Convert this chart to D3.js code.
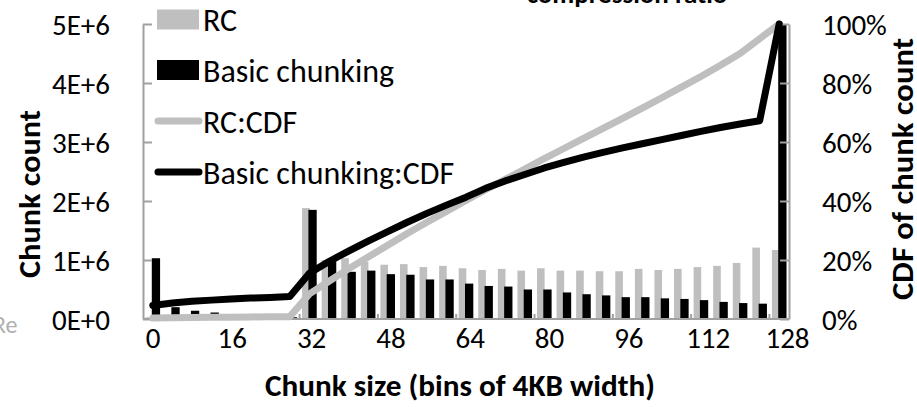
<!DOCTYPE html>
<html><head><meta charset="utf-8">
<script src="https://cdn.jsdelivr.net/npm/d3@7/dist/d3.min.js"></script>
<style>
body{margin:0;background:#fff;}
svg text{font-family:Carlito, Lato, sans-serif;fill:#000;}
</style>
</head><body>
<svg id="chart" width="917" height="407"></svg>
<script>
// ---- data ----
const categories = [0,4,8,12,16,20,24,28,32,36,40,44,48,52,56,60,64,68,72,76,80,84,88,92,96,100,104,108,112,116,120,124,128];
const xTickValues = [0,16,32,48,64,80,96,112,128];
const xTickLabels = ["0","16","32","48","64","80","96","112","128"];
const leftTickValues = [0,1e6,2e6,3e6,4e6,5e6];
const leftTickLabels = ["0E+0","1E+6","2E+6","3E+6","4E+6","5E+6"];
const rightTickValues = [0,0.2,0.4,0.6,0.8,1.0];
const rightTickLabels = ["0%","20%","40%","60%","80%","100%"];
const seriesNames = ["RC","Basic chunking","RC:CDF","Basic chunking:CDF"];

const rcCount = [0.03e6,0.03e6,0.03e6,0.03e6,0.02e6,0.02e6,0.02e6,0.02e6,1.88e6,1.0e6,1.03e6,0.97e6,0.92e6,0.93e6,0.88e6,0.90e6,0.86e6,0.83e6,0.85e6,0.82e6,0.86e6,0.82e6,0.82e6,0.81e6,0.81e6,0.85e6,0.83e6,0.85e6,0.88e6,0.90e6,0.95e6,1.21e6,1.17e6];
const basicCount = [1.03e6,0.20e6,0.14e6,0.11e6,0.08e6,0.05e6,0.04e6,0.03e6,1.85e6,1.0e6,0.80e6,0.82e6,0.76e6,0.75e6,0.67e6,0.67e6,0.60e6,0.56e6,0.55e6,0.50e6,0.50e6,0.45e6,0.42e6,0.40e6,0.37e6,0.37e6,0.35e6,0.34e6,0.32e6,0.29e6,0.27e6,0.26e6,7.6e6];
const rcCdf = [0.003,0.004,0.005,0.006,0.006,0.007,0.008,0.008,0.085,0.128,0.17,0.21,0.25,0.29,0.328,0.365,0.402,0.438,0.473,0.508,0.544,0.578,0.612,0.646,0.68,0.715,0.75,0.786,0.822,0.86,0.90,0.95,1.0];
const basicCdf = [0.046,0.054,0.060,0.064,0.068,0.071,0.073,0.076,0.155,0.195,0.23,0.264,0.296,0.328,0.358,0.386,0.413,0.443,0.468,0.49,0.512,0.531,0.549,0.565,0.58,0.594,0.608,0.622,0.636,0.649,0.661,0.672,1.0];

// ---- layout ----
const L = 143, R = 789, T = 24, B = 319;
const GRAY = "#bfbfbf", AXIS = "#a0a0a0";
const FONT = "Carlito, Lato, sans-serif";
const svg = d3.select("#chart");

const x = d3.scaleBand().domain(categories).range([L, R]).padding(0);
const bw = x.bandwidth();
const cx = c => x(c) + bw / 2;
const xLab = d3.scaleLinear().domain([0, 128]).range([152.5, 787]);
const yL = d3.scaleLinear().domain([0, 5e6]).range([B, T]);
const yR = d3.scaleLinear().domain([0, 1]).range([B, T]);

svg.append("defs").append("clipPath").attr("id", "plot")
  .append("rect").attr("x", L).attr("y", T).attr("width", R - L).attr("height", B - T);

// partial texts from the surrounding page
svg.append("text").attr("x", 627).attr("y", 3).attr("text-anchor", "middle")
  .style("font-size", "27px").style("font-weight", "bold").text("compression ratio");
svg.append("text").attr("x", -7).attr("y", 333).style("font-size", "24px")
  .style("fill", "#b0b0b0").text("Re");

// bars
const bars = svg.append("g").attr("clip-path", "url(#plot)");
bars.selectAll(".rc").data(categories).join("rect")
  .attr("x", d => cx(d) - 7.3).attr("width", 7.6)
  .attr("y", (d, i) => yL(rcCount[i])).attr("height", (d, i) => B - yL(rcCount[i]))
  .attr("fill", GRAY);
bars.selectAll(".bc").data(categories).join("rect")
  .attr("x", d => cx(d) - 1).attr("width", 8.3)
  .attr("y", (d, i) => yL(basicCount[i])).attr("height", (d, i) => B - yL(basicCount[i]))
  .attr("fill", "#000");

// axes
function styleAxis(g) {
  g.select(".domain").attr("stroke", AXIS).attr("stroke-width", 2);
  g.selectAll(".tick line").attr("stroke", AXIS).attr("stroke-width", 2);
  g.selectAll(".tick text").style("font-size", "29px").style("font-family", FONT);
}
const axL = d3.axisLeft(yL).tickValues(leftTickValues)
  .tickFormat((d, i) => leftTickLabels[i]).tickSizeInner(-9).tickSizeOuter(0).tickPadding(33);
svg.append("g").attr("transform", `translate(${L},0)`).call(axL).call(styleAxis)
  .selectAll(".tick text").attr("dy", "0.36em");
const axR = d3.axisRight(yR).tickValues(rightTickValues)
  .tickFormat((d, i) => rightTickLabels[i]).tickSizeInner(-9).tickSizeOuter(0).tickPadding(33);
svg.append("g").attr("transform", `translate(${R},0)`).call(axR).call(styleAxis)
  .selectAll(".tick text").attr("dy", "0.36em");

// bottom axis line
svg.append("line").attr("x1", L).attr("x2", R).attr("y1", B).attr("y2", B)
  .attr("stroke", AXIS).attr("stroke-width", 2);
// category boundary tick marks (every 4 categories)
svg.append("g").selectAll("line").data(categories.filter((d, i) => i > 0 && i % 4 === 0)).join("line")
  .attr("x1", d => x(d)).attr("x2", d => x(d)).attr("y1", B).attr("y2", B - 5)
  .attr("stroke", AXIS).attr("stroke-width", 2);
// category labels
const axB = d3.axisBottom(xLab).tickValues(xTickValues)
  .tickFormat((d, i) => xTickLabels[i]).tickSize(0).tickPadding(8);
const gB = svg.append("g").attr("transform", `translate(0,${B})`).call(axB).call(styleAxis);
gB.select(".domain").remove();

// CDF lines
const lineR = d3.line().x((d, i) => cx(categories[i])).y(d => yR(d));
svg.append("path").datum(rcCdf).attr("d", lineR).attr("fill", "none")
  .attr("stroke", GRAY).attr("stroke-width", 7).attr("stroke-linejoin", "round").attr("stroke-linecap", "round");
svg.append("path").datum(basicCdf).attr("d", lineR).attr("fill", "none")
  .attr("stroke", "#000").attr("stroke-width", 7).attr("stroke-linejoin", "round").attr("stroke-linecap", "round");

// axis titles
svg.append("text").attr("transform", "translate(29,194) rotate(-90)").attr("text-anchor", "middle")
  .attr("dy", "0.36em").style("font-size", "30px").style("font-weight", "bold")
  .attr("textLength", 168).attr("lengthAdjust", "spacingAndGlyphs").text("Chunk count");
svg.append("text").attr("transform", "translate(902,169) rotate(-90)").attr("text-anchor", "middle")
  .attr("dy", "0.36em").style("font-size", "30px").style("font-weight", "bold")
  .attr("textLength", 262).attr("lengthAdjust", "spacingAndGlyphs").text("CDF of chunk count");
svg.append("text").attr("x", 460).attr("y", 385).attr("text-anchor", "middle")
  .attr("dy", "0.36em").style("font-size", "30px").style("font-weight", "bold")
  .attr("textLength", 390).attr("lengthAdjust", "spacingAndGlyphs")
  .text("Chunk size (bins of 4KB width)");

// legend
const lg = svg.append("g");
const ly = [19.5, 70, 121, 172];
lg.append("rect").attr("x", 157).attr("y", ly[0] - 10).attr("width", 42).attr("height", 20).attr("fill", GRAY);
lg.append("rect").attr("x", 157).attr("y", ly[1] - 10).attr("width", 42).attr("height", 20).attr("fill", "#000");
lg.append("line").attr("x1", 158).attr("x2", 199).attr("y1", ly[2]).attr("y2", ly[2])
  .attr("stroke", GRAY).attr("stroke-width", 7).attr("stroke-linecap", "round");
lg.append("line").attr("x1", 158).attr("x2", 199).attr("y1", ly[3]).attr("y2", ly[3])
  .attr("stroke", "#000").attr("stroke-width", 7).attr("stroke-linecap", "round");
lg.selectAll("text.lt").data(seriesNames).join("text")
  .attr("x", 203).attr("y", (d, i) => ly[i]).attr("dy", "0.36em")
  .style("font-size", "32px").text(d => d);
</script>
</body></html>
